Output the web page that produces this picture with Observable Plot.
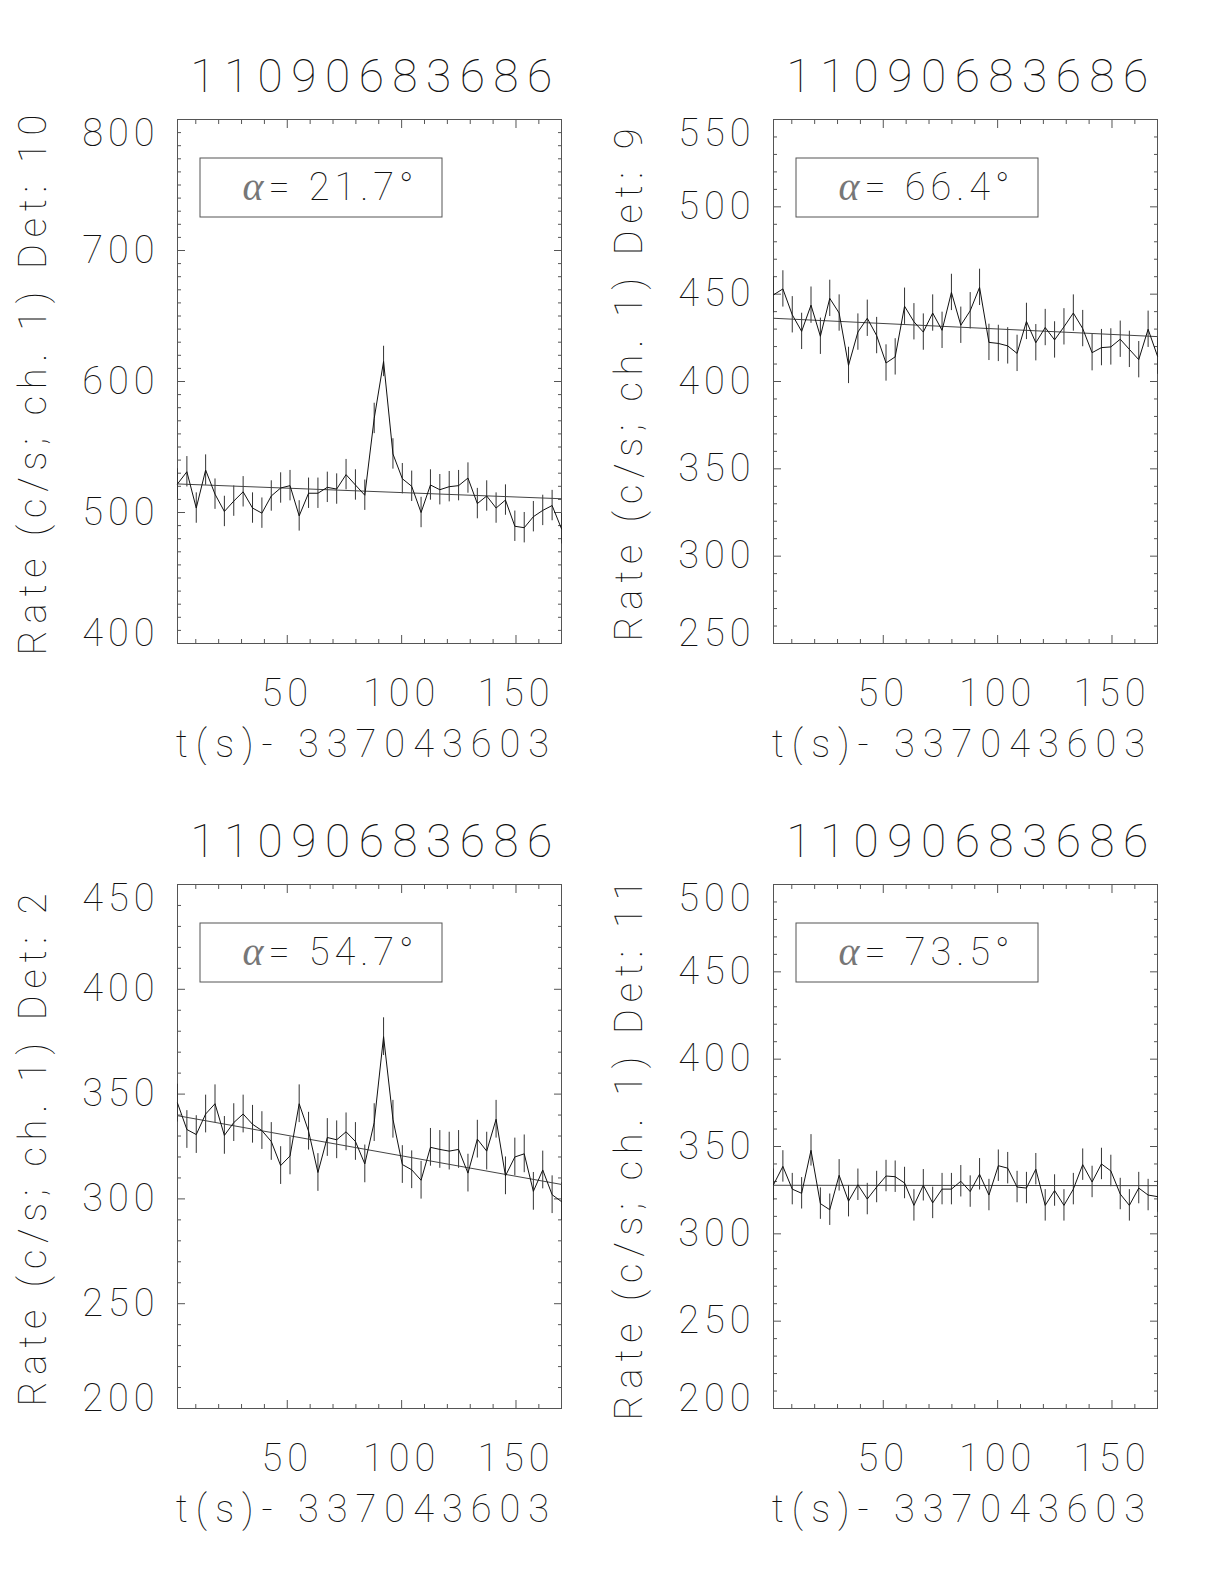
<!DOCTYPE html>
<html><head><meta charset="utf-8">
<script src="https://cdn.jsdelivr.net/npm/d3@7"></script>
<script src="https://cdn.jsdelivr.net/npm/@observablehq/plot@0.6"></script>
<style>
body{margin:0;background:#fff;}
#page{position:relative;width:1224px;height:1584px;background:#fff;overflow:hidden;}
.panel{position:absolute;}
svg text{letter-spacing:0.13em;}
</style></head><body><div id="page"></div>
<script>
// ---- data ----
const triggerId = "11090683686";
const timeOffset = "337043603";
const timeSec = [2.0, 6.1, 10.2, 14.3, 18.4, 22.5, 26.6, 30.7, 34.8, 38.9, 43.0, 47.1, 51.2, 55.2,
  59.3, 63.4, 67.5, 71.6, 75.7, 79.8, 83.9, 88.0, 92.1, 96.2, 100.3, 104.4, 108.5, 112.6, 116.7,
  120.8, 124.9, 129.0, 133.1, 137.2, 141.3, 145.4, 149.5, 153.6, 157.6, 161.7, 165.8, 169.9];
const rateDet10 = [521.8, 531.1, 503.4, 532.4, 514.0, 500.8, 508.7, 515.8, 503.4, 499.5, 512.6, 518.7,
  520.5, 497.4, 514.7, 514.7, 519.2, 517.9, 528.9, 521.0, 513.2, 571.8, 615.3, 544.7, 525.8, 520.0,
  500.0, 521.0, 517.4, 519.7, 520.5, 526.3, 506.8, 512.6, 503.4, 509.5, 489.5, 488.4, 496.8, 501.6,
  505.3, 487.6];
const rateDet9 = [449.6, 453.0, 438.2, 428.7, 443.7, 425.9, 447.6, 439.2, 409.2, 428.3, 436.2, 426.3,
  410.6, 414.1, 443.1, 434.2, 428.3, 439.2, 429.3, 451.0, 432.2, 440.5, 453.9, 422.4, 421.8, 420.4,
  416.1, 434.4, 422.2, 430.9, 423.8, 431.3, 439.2, 430.3, 416.5, 419.4, 419.8, 424.2, 418.4, 412.5,
  429.9, 414.5];
const rateDet2 = [345.7, 333.1, 330.7, 340.5, 345.4, 330.3, 336.4, 340.5, 335.6, 332.6, 327.4, 315.9,
  320.5, 345.4, 332.3, 312.6, 329.3, 328.2, 332.0, 327.4, 316.7, 336.4, 377.4, 338.0, 316.4, 313.9,
  308.9, 324.6, 323.6, 322.8, 323.6, 312.3, 328.5, 322.8, 338.0, 311.0, 320.0, 321.5, 303.6, 313.8,
  302.0, 298.7];
const rateDet11 = [328.1, 338.6, 325.6, 323.2, 347.8, 317.3, 313.8, 333.5, 318.7, 328.1, 319.9, 326.8,
  333.1, 332.7, 329.1, 316.3, 327.8, 317.7, 325.6, 325.6, 330.1, 324.2, 334.1, 322.2, 339.0, 337.6,
  326.8, 326.2, 337.0, 316.3, 324.8, 316.3, 325.6, 339.6, 329.7, 340.0, 336.0, 322.8, 316.3, 326.2,
  322.2, 321.3];
const detectors = [10, 9, 2, 11];
const alphaDeg = ["21.7", "66.4", "54.7", "73.5"];
const errHalf = [11.6, 10.4, 9.0, 9.0];
const fitDet10 = [521.8, 510.5];
const fitDet9 = [436.2, 425.7];
const fitDet2 = [339.7, 306.9];
const fitDet11 = [327.8, 327.6];
const yDomains = [[400, 800], [250, 550], [200, 450], [200, 500]];
const yTickLabels = [[400, 500, 600, 700, 800], [250, 300, 350, 400, 450, 500, 550],
  [200, 250, 300, 350, 400, 450], [200, 250, 300, 350, 400, 450, 500]];
const xTickLabels = [50, 100, 150];
const xMinorTicks = [10, 20, 30, 40, 60, 70, 80, 90, 110, 120, 130, 140, 160];

const rates = [rateDet10, rateDet9, rateDet2, rateDet11];
const fits = [fitDet10, fitDet9, fitDet2, fitDet11];
const panelPos = [[0, 0], [596, 0], [0, 765], [596, 765]];

const FONT = 'Roboto, "DejaVu Sans", sans-serif';
const INK = "#111";
const AX = "#555";
const txt = {fontSize: 38, fontWeight: 100, fill: INK, lineAnchor: "middle"};

const page = document.getElementById("page");

rates.forEach((rate, i) => {
  const data = rate.map((r, k) => ({t: timeSec[k], r, e: errHalf[i]}));
  const fitData = [{t: timeSec[0], r: fits[i][0]}, {t: timeSec[timeSec.length - 1], r: fits[i][1]}];
  const [y0, y1] = yDomains[i];
  const labels = yTickLabels[i];
  const yMinor = d3.range(y0, y1 + 0.1, 10).filter(v => !labels.includes(v));
  const innerLabels = labels.slice(1, -1);
  const xTitle = `t(s)- ${timeOffset}`;
  const yTitle = `Rate (c/s; ch. 1) Det: ${detectors[i]}`;
  const legendText = `α= ${alphaDeg[i]}°`;

  const legendBox = (index, scales, values, dims) => {
    const g = d3.create("svg:g");
    g.append("rect")
      .attr("x", dims.marginLeft + 23).attr("y", dims.marginTop + 39)
      .attr("width", 242).attr("height", 59)
      .attr("fill", "none").attr("stroke", AX).attr("stroke-width", 1);
    return g.node();
  };

  const tickOpts = {label: null, fill: "none", stroke: AX, strokeWidth: 1};

  const chart = Plot.plot({
    width: 600, height: 765,
    marginLeft: 177, marginRight: 39, marginTop: 119, marginBottom: 122,
    x: {domain: [timeSec[0], timeSec[timeSec.length - 1]]},
    y: {domain: yDomains[i]},
    style: {fontFamily: FONT, background: "white", overflow: "visible"},
    marks: [
      Plot.axisX({...tickOpts, ticks: xTickLabels, anchor: "bottom", tickSize: -8}),
      Plot.axisX({...tickOpts, ticks: xMinorTicks, anchor: "bottom", tickSize: -4}),
      Plot.axisX({...tickOpts, ticks: xTickLabels, anchor: "top", tickSize: -8}),
      Plot.axisX({...tickOpts, ticks: xMinorTicks, anchor: "top", tickSize: -4}),
      Plot.axisY({...tickOpts, ticks: labels, anchor: "left", tickSize: -8}),
      Plot.axisY({...tickOpts, ticks: yMinor, anchor: "left", tickSize: -4}),
      Plot.axisY({...tickOpts, ticks: labels, anchor: "right", tickSize: -8}),
      Plot.axisY({...tickOpts, ticks: yMinor, anchor: "right", tickSize: -4}),
      Plot.frame({stroke: AX, strokeWidth: 1}),
      Plot.ruleX(data, {x: "t", y1: d => d.r - d.e, y2: d => d.r + d.e, stroke: "#333", strokeWidth: 1}),
      Plot.line(fitData, {x: "t", y: "r", stroke: "#444", strokeWidth: 1}),
      Plot.line(data, {x: "t", y: "r", stroke: "#111", strokeWidth: 1}),
      legendBox,
      Plot.text([legendText], {...txt, text: d => d, frameAnchor: "top-left", dx: 153, dy: 68, textAnchor: "middle"}),
      Plot.text(innerLabels, {...txt, text: d => String(d), y: d => d, frameAnchor: "left", dx: -18, textAnchor: "end"}),
      Plot.text([labels[labels.length - 1]], {...txt, text: d => String(d), y: d => d, frameAnchor: "left", dx: -18, dy: 14, textAnchor: "end"}),
      Plot.text([labels[0]], {...txt, text: d => String(d), y: d => d, frameAnchor: "left", dx: -18, dy: -10, textAnchor: "end"}),
      Plot.text(xTickLabels, {...txt, text: d => String(d), x: d => d, frameAnchor: "bottom", dy: 50, dx: 0, textAnchor: "middle"}),
      Plot.text([triggerId], {...txt, fontSize: 46, text: d => d, frameAnchor: "top", dy: -42, dx: 6, textAnchor: "middle"}),
      Plot.text([xTitle], {...txt, text: d => d, frameAnchor: "bottom", dy: 101, dx: -3, textAnchor: "middle"}),
      Plot.text([yTitle], {...txt, text: d => d, frameAnchor: "left", dx: -144, rotate: -90, textAnchor: "middle"})
    ]
  });

  // Per-text letter spacing (wide, Hershey-like glyph advance)
  const spacing = new Map([[triggerId, "8.5px"], [xTitle, "8px"], [yTitle, "6.8px"]]);
  d3.select(chart).selectAll("text").each(function () {
    const s = spacing.get(this.textContent);
    if (s) this.style.letterSpacing = s;
    if (this.textContent === legendText) {
      const rest = this.textContent.slice(1);
      this.textContent = "";
      d3.select(this).append("tspan")
        .attr("font-family", '"Liberation Serif", "DejaVu Serif", serif')
        .attr("font-style", "italic").attr("font-weight", 400)
        .attr("fill", "#777")
        .attr("font-size", 40).text("α");
      d3.select(this).append("tspan").text(rest);
    }
  });

  const holder = document.createElement("div");
  holder.className = "panel";
  holder.style.left = panelPos[i][0] + "px";
  holder.style.top = panelPos[i][1] + "px";
  holder.appendChild(chart);
  page.appendChild(holder);
});
</script></body></html>
